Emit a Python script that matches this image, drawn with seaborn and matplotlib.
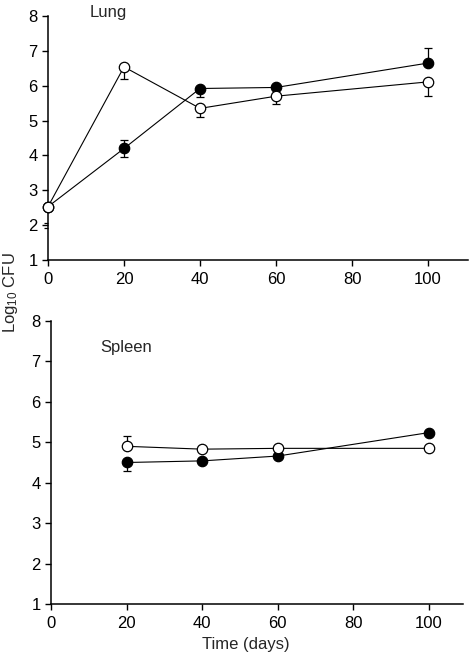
import matplotlib
matplotlib.use("Agg")
import matplotlib.pyplot as plt
import seaborn as sns
import pandas as pd

# data
lung_days = [0, 20, 40, 60, 100]
lung_filled = [2.53, 4.2, 5.92, 5.95, 6.65]
lung_filled_lo = [0, 0.25, 0.24, 0, 0]
lung_filled_hi = [0, 0.24, 0, 0, 0.43]
lung_open = [2.53, 6.54, 5.35, 5.70, 6.11]
lung_open_lo = [0, 0.35, 0.24, 0.23, 0.41]
lung_open_hi = [0, 0, 0, 0, 0]

spleen_days = [20, 40, 60, 100]
spleen_filled = [4.50, 4.54, 4.66, 5.24]
spleen_filled_lo = [0.21, 0, 0, 0]
spleen_filled_hi = [0, 0, 0, 0]
spleen_open = [4.90, 4.83, 4.85, 4.85]
spleen_open_lo = [0, 0, 0, 0]
spleen_open_hi = [0.26, 0, 0, 0]

yticks = [1, 2, 3, 4, 5, 6, 7, 8]
xticks = [0, 20, 40, 60, 80, 100]

sns.set_theme(style="ticks")
plt.rcParams["font.family"] = ["Liberation Sans", "DejaVu Sans"]
plt.rcParams["mathtext.default"] = "regular"

FS = 12

fig = plt.figure(figsize=(4.7, 6.57), dpi=100)
ax1 = fig.add_axes([48 / 470, 1 - 260 / 657, 420 / 470, 244 / 657])
ax2 = fig.add_axes([51 / 470, 1 - 604 / 657, 412 / 470, 283 / 657])


def draw(ax, days, filled, f_lo, f_hi, opn, o_lo, o_hi):
    df = pd.DataFrame({"day": days, "filled": filled, "open": opn})
    ax.errorbar(days, filled, yerr=[f_lo, f_hi], fmt="none", ecolor="black",
                elinewidth=0.9, capsize=3.2, capthick=0.9, zorder=1)
    ax.errorbar(days, opn, yerr=[o_lo, o_hi], fmt="none", ecolor="black",
                elinewidth=0.9, capsize=3.2, capthick=0.9, zorder=1)
    sns.lineplot(data=df, x="day", y="filled", ax=ax, color="black", lw=0.8,
                 marker="o", markersize=7.5, markerfacecolor="black",
                 markeredgecolor="black", markeredgewidth=0.9, zorder=2)
    sns.lineplot(data=df, x="day", y="open", ax=ax, color="black", lw=0.8,
                 marker="o", markersize=7.5, markerfacecolor="white",
                 markeredgecolor="black", markeredgewidth=0.9, zorder=3)
    ax.set_ylim(1, 8)
    ax.set_yticks(yticks)
    ax.set_xticks(xticks)
    ax.set_ylabel("")
    ax.set_xlabel("")
    ax.tick_params(axis="both", labelsize=FS, length=4.5, width=1,
                   colors="black")
    ax.tick_params(axis="x", pad=4)
    ax.tick_params(axis="y", pad=3)
    for s in ["left", "bottom"]:
        ax.spines[s].set_linewidth(1.1)
        ax.spines[s].set_color("black")
    sns.despine(ax=ax)
    for c in ax.lines:
        c.set_clip_on(False)


draw(ax1, lung_days, lung_filled, lung_filled_lo, lung_filled_hi,
     lung_open, lung_open_lo, lung_open_hi)
draw(ax2, spleen_days, spleen_filled, spleen_filled_lo, spleen_filled_hi,
     spleen_open, spleen_open_lo, spleen_open_hi)

ax1.set_xlim(0, 110.5)
ax2.set_xlim(0, 109)

# axis break marks near 2 on the lung panel
ax1.set_yticks([1.93, 2.07], minor=True)
ax1.tick_params(axis="y", which="minor", length=3, width=0.9, color="black")

ax1.text(11, 7.96, "Lung", fontsize=FS, va="baseline", ha="left")
ax2.text(13, 7.23, "Spleen", fontsize=FS, va="baseline", ha="left")

ax2.set_xlabel("Time (days)", fontsize=FS)
ax2.xaxis.set_label_coords(0.473, -0.115)

fig.text(11 / 470, 1 - 293 / 657, "Log$_{10}$ CFU", rotation=90,
         ha="center", va="center", fontsize=FS)

fig.savefig("out.png", dpi=100)
